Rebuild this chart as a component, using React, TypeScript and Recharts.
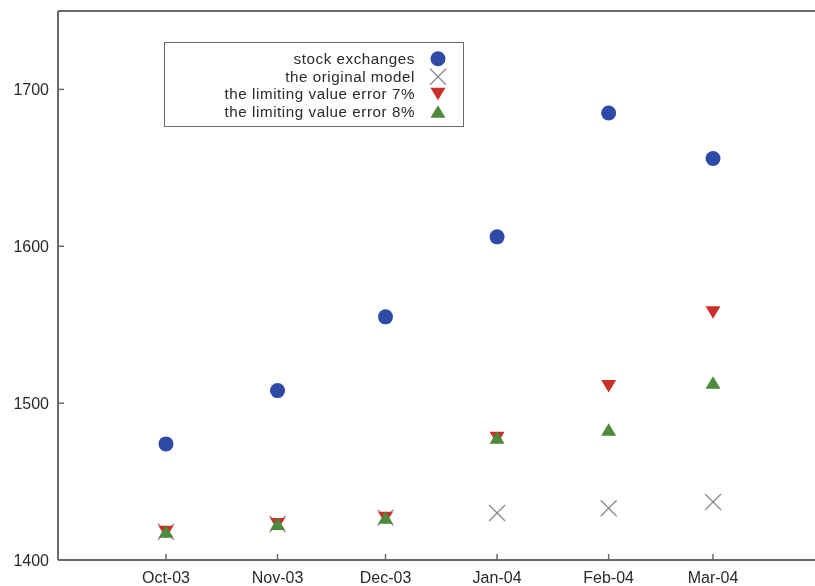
import React from 'react';
import { ScatterChart, Scatter, XAxis, YAxis, ReferenceLine, Legend } from 'recharts';

const months = ['Oct-03', 'Nov-03', 'Dec-03', 'Jan-04', 'Feb-04', 'Mar-04'];
const monthDates = ['2003-10-01', '2003-11-01', '2003-12-01', '2004-01-01', '2004-02-01', '2004-03-01'];
const stockExchanges = [1474, 1508, 1555, 1606, 1685, 1656];
const originalModel = [1418, 1423, 1427, 1430, 1433, 1437];
const limitError7 = [1418, 1423, 1427, 1478, 1511, 1558];
const limitError8 = [1418, 1423, 1427, 1478, 1483, 1513];
const yTicks = [1400, 1500, 1600, 1700];
const seriesNames = [
  'stock exchanges',
  'the original model',
  'the limiting value error 7%',
  'the limiting value error 8%',
];

const monthTimes = monthDates.map((d) => Date.parse(d));
const toPoints = (vals: number[]) => vals.map((v, i) => ({ t: monthTimes[i], v }));

const FONT = '"Liberation Sans", Arial, Helvetica, sans-serif';
const AXIS = '#6a6a6a';
const TEXT = '#2a2a2a';
const BLUE = '#2d4aa6';
const RED = '#c9302a';
const GREEN = '#4d8a3b';
const GRAY = '#8a8a8a';

const CircleMark = (p: any) => <circle cx={p.cx} cy={p.cy} r={7.5} fill={BLUE} />;
const CrossMark = (p: any) => (
  <g stroke={GRAY} strokeWidth={1.3}>
    <line x1={p.cx - 8} y1={p.cy - 8} x2={p.cx + 8} y2={p.cy + 8} />
    <line x1={p.cx - 8} y1={p.cy + 8} x2={p.cx + 8} y2={p.cy - 8} />
  </g>
);
const TriDown = (p: any) => (
  <polygon
    points={`${p.cx - 7.5},${p.cy - 6} ${p.cx + 7.5},${p.cy - 6} ${p.cx},${p.cy + 6.5}`}
    fill={RED}
  />
);
const TriUp = (p: any) => (
  <polygon
    points={`${p.cx - 7.5},${p.cy + 6} ${p.cx + 7.5},${p.cy + 6} ${p.cx},${p.cy - 6.5}`}
    fill={GREEN}
  />
);
const markers = [CircleMark, CrossMark, TriDown, TriUp];

const XTick = (p: any) => {
  const idx = monthTimes.indexOf(p.payload.value);
  return (
    <g>
      <line x1={p.x} x2={p.x} y1={p.y} y2={p.y - 6} stroke={AXIS} strokeWidth={1.5} />
      <text x={p.x} y={p.y + 23} textAnchor="middle" fontSize={16} fill={TEXT} fontFamily={FONT}>
        {months[idx]}
      </text>
    </g>
  );
};

const YTick = (p: any) => (
  <g>
    <line x1={p.x} x2={p.x + 6} y1={p.y} y2={p.y} stroke={AXIS} strokeWidth={1.5} />
    <text x={p.x - 9} y={p.y + 6} textAnchor="end" fontSize={16} fill={TEXT} fontFamily={FONT}>
      {p.payload.value}
    </text>
  </g>
);

const LegendBox = () => (
  <div
    style={{
      boxSizing: 'border-box',
      width: 300,
      height: 85,
      border: `1.5px solid ${AXIS}`,
      background: '#fff',
      position: 'relative',
      fontFamily: FONT,
      fontSize: 15.2,
      letterSpacing: 0.55,
      color: TEXT,
    }}
  >
    {seriesNames.map((n, i) => {
      const M = markers[i];
      return (
        <div key={n} style={{ position: 'absolute', top: 7 + i * 17.5, left: 0, height: 17.5, width: '100%' }}>
          <span style={{ position: 'absolute', right: 48, lineHeight: '17.5px', whiteSpace: 'nowrap' }}>{n}</span>
          <svg style={{ position: 'absolute', left: 263, top: 0 }} width={20} height={17.5}>
            <M cx={10} cy={8.75} />
          </svg>
        </div>
      );
    })}
  </div>
);

export default function App() {
  const series = [stockExchanges, originalModel, limitError7, limitError8];
  return (
    <div style={{ position: 'fixed', left: 0, top: 0, width: 815, height: 586 }}>
      <ScatterChart width={815} height={586} margin={{ top: 11, right: 0, left: 8, bottom: 0 }}>
        <XAxis
          type="number"
          dataKey="t"
          domain={[Date.parse('2003-09-01'), Date.parse('2004-03-29T08:00:00Z')]}
          allowDataOverflow
          ticks={monthTimes}
          interval={0}
          tick={XTick}
          tickLine={false}
          tickSize={0}
          tickMargin={0}
          height={26}
          axisLine={{ stroke: AXIS, strokeWidth: 2 }}
        />
        <YAxis
          type="number"
          dataKey="v"
          domain={[1400, 1750]}
          allowDataOverflow
          ticks={yTicks}
          interval={0}
          tick={YTick}
          tickLine={false}
          tickSize={0}
          tickMargin={0}
          width={50}
          axisLine={{ stroke: AXIS, strokeWidth: 2 }}
        />
        <ReferenceLine y={1750} stroke={AXIS} strokeWidth={2} />
        {series.map((vals, i) => (
          <Scatter
            key={seriesNames[i]}
            name={seriesNames[i]}
            data={toPoints(vals)}
            shape={markers[i]}
            isAnimationActive={false}
          />
        ))}
        <Legend
          layout="vertical"
          align="center"
          verticalAlign="middle"
          wrapperStyle={{ left: 164, top: 42, width: 300, height: 85 }}
          content={() => <LegendBox />}
        />
      </ScatterChart>
    </div>
  );
}
